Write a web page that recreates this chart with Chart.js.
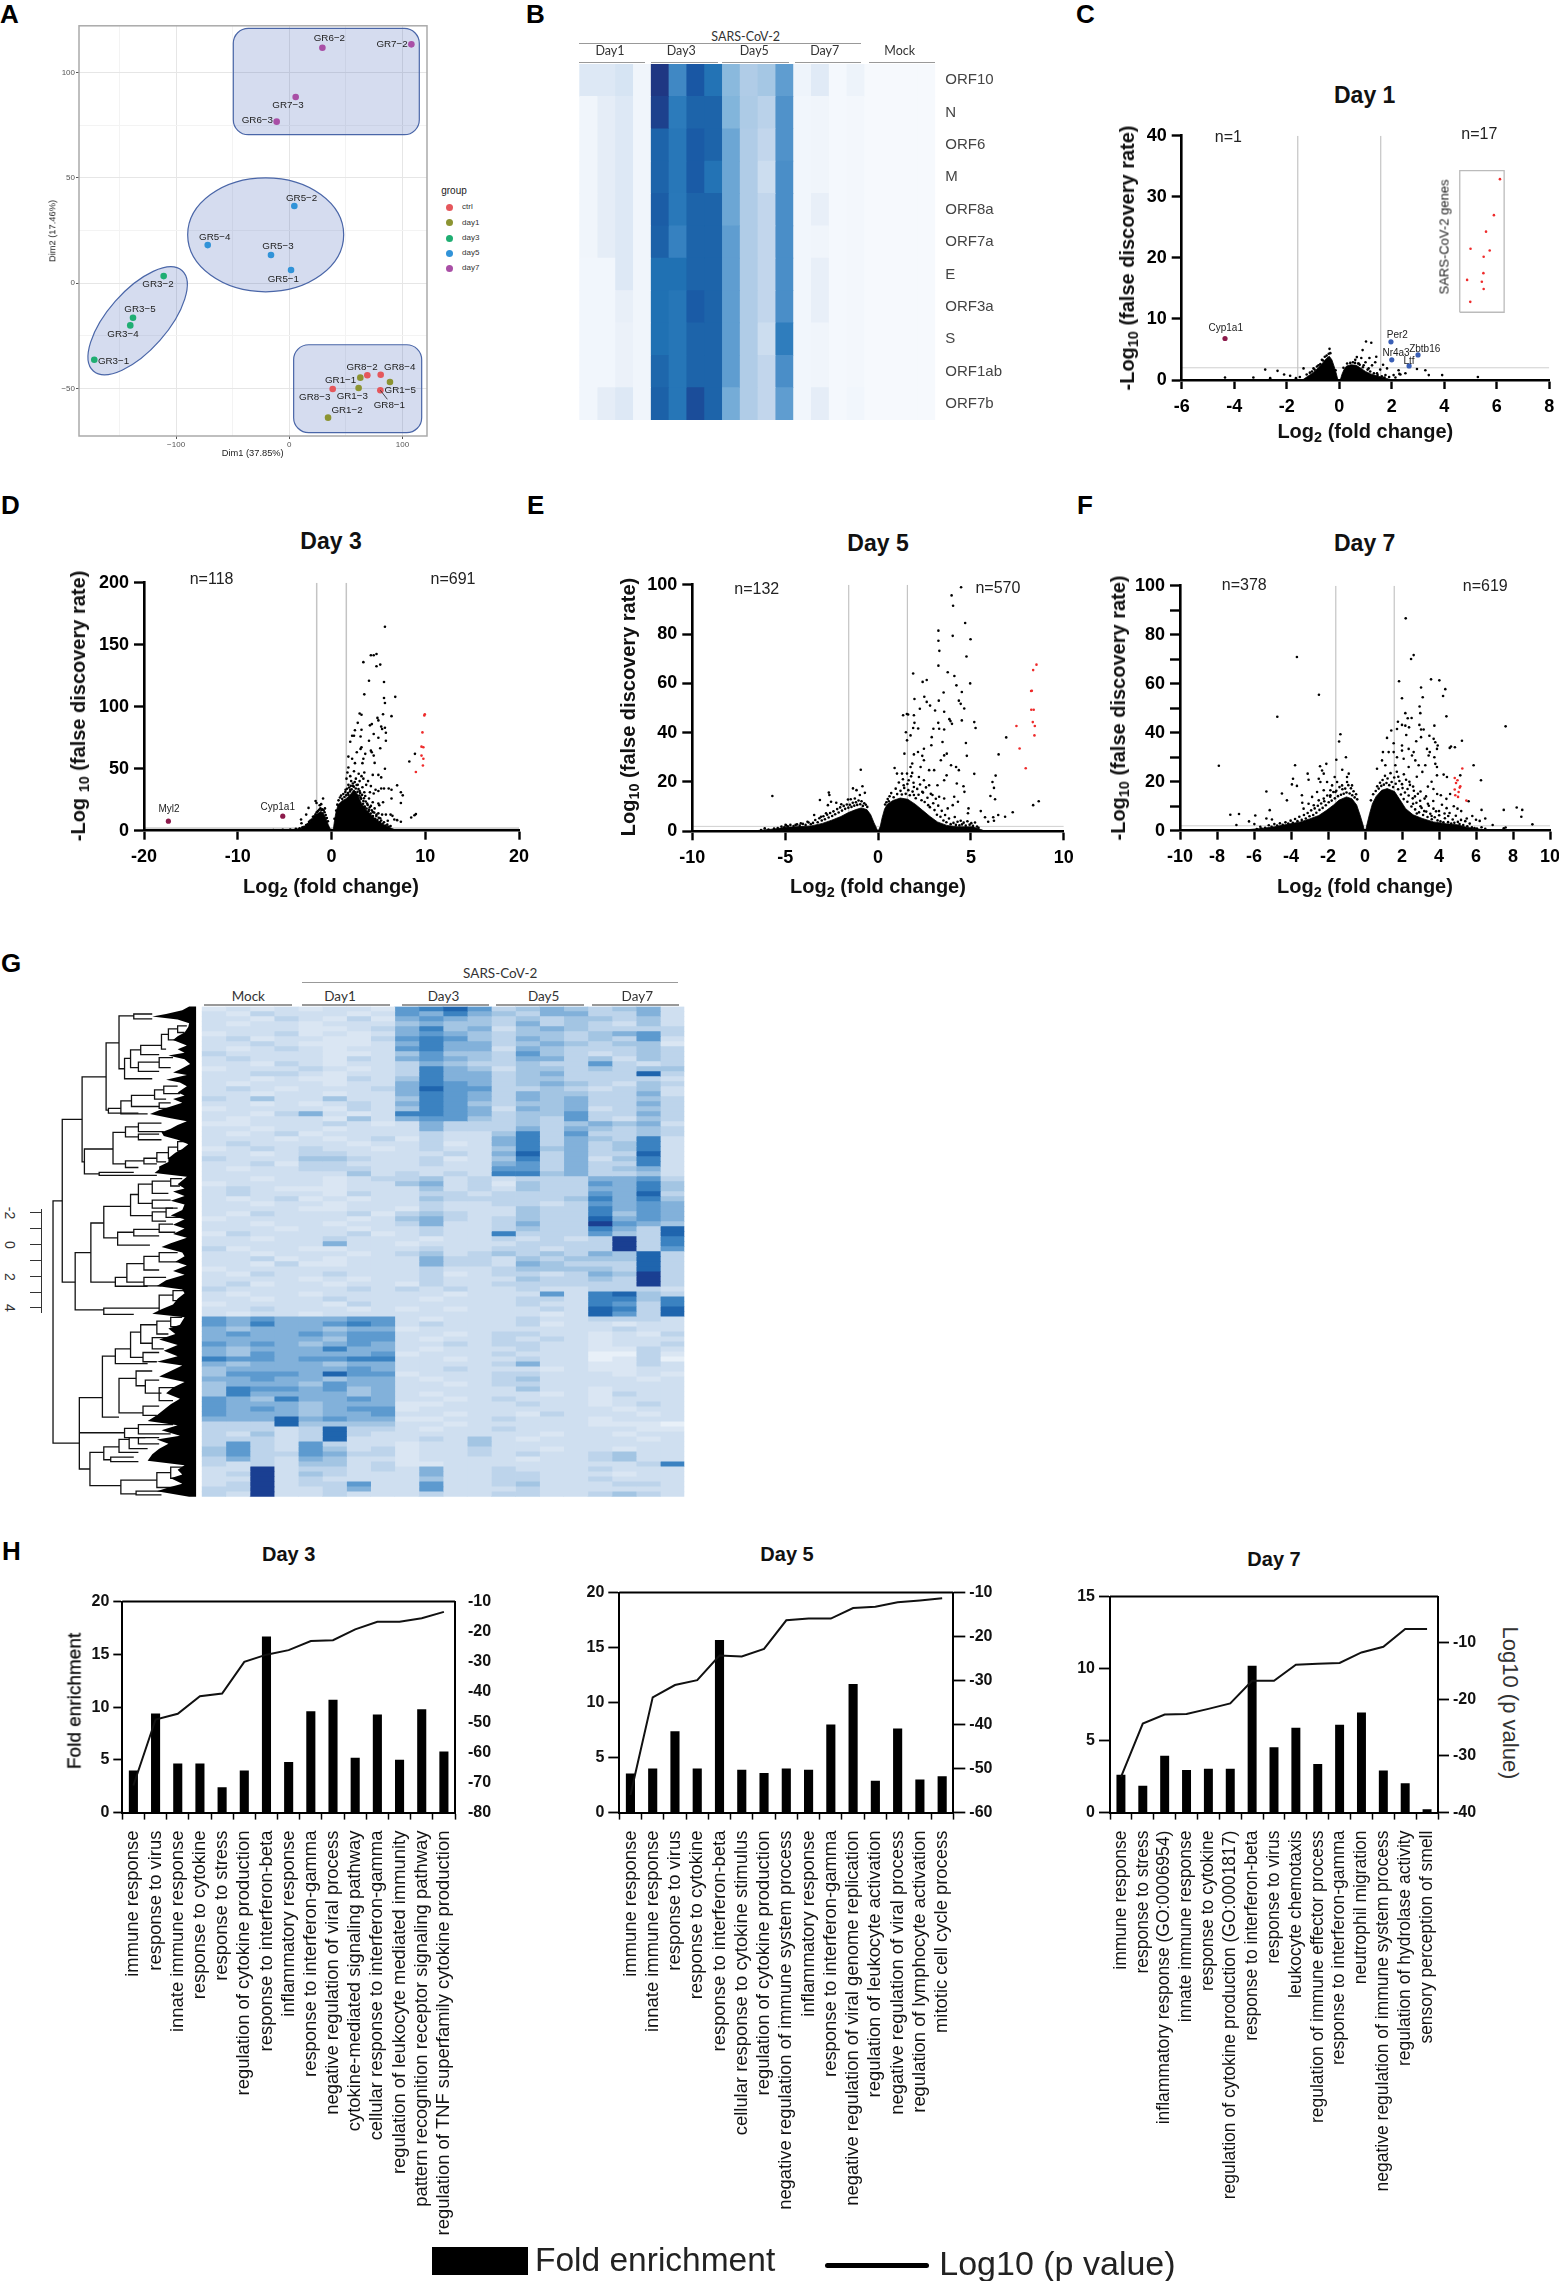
<!DOCTYPE html>
<html><head><meta charset="utf-8">
<script src="https://cdn.jsdelivr.net/npm/chart.js@4/dist/chart.umd.min.js"></script>
<style>
html,body{margin:0;padding:0;background:#fff}
#page{position:relative;width:1559px;height:2281px;overflow:hidden;background:#fff;font-family:"Liberation Sans",Arial,sans-serif;color:#000;filter:blur(.35px)}
#page canvas{position:absolute}
.t{position:absolute;white-space:nowrap;line-height:1;transform-origin:center}
.t sub{font-size:.72em;vertical-align:-.28em;line-height:0}
.l{position:absolute}
</style></head><body><div id="page"></div>
<script>
/* ---------- Panel A: PCA ---------- */
const pcaGroups=['ctrl','day1','day3','day5','day7'];
const pcaNames={ctrl:['GR8-2','GR8-4','GR8-3','GR8-1'],day1:['GR1-1','GR1-3','GR1-5','GR1-2'],day3:['GR3-2','GR3-5','GR3-4','GR3-1'],day5:['GR5-2','GR5-4','GR5-3','GR5-1'],day7:['GR6-2','GR7-2','GR7-3','GR6-3']};
const pcaDim1={ctrl:[68.9,80.7,38.3,80.4],day1:[62.7,61.2,88.9,34.2],day3:[-111,-138.1,-140.5,-172.3],day5:[4.4,-72.1,-16.2,1.5],day7:[29.2,107.8,5.6,-11.2]};
const pcaDim2={ctrl:[-43.8,-43.5,-50.3,-50.9],day1:[-44.9,-49.8,-47,-63.9],day3:[3.3,-16.5,-20.1,-36.4],day5:[36.6,18,13.3,6.2],day7:[111.7,113.3,88.3,76.6]};
/* ---------- Panel B ---------- */
const orfGenes=['ORF10','N','ORF6','M','ORF8a','ORF7a','E','ORF3a','S','ORF1ab','ORF7b'];
const orfHeat=[
[20,20,22,6,100,65,90,78,45,35,38,55,7,18,3,8,2,2,2,2],
[6,14,20,6,97,72,84,84,47,36,31,60,5,6,3,4,2,2,2,2],
[6,14,20,6,84,75,88,84,52,35,28,60,5,6,3,4,2,2,2,2],
[6,14,20,6,84,75,88,78,52,35,25,62,5,6,3,4,2,2,2,2],
[6,14,20,6,87,74,84,84,52,35,28,62,5,12,3,4,2,2,2,2],
[6,14,20,6,85,68,84,84,55,35,28,62,5,6,3,4,2,2,2,2],
[5,5,20,6,80,80,84,84,55,35,28,62,5,12,3,4,2,2,2,2],
[5,5,12,6,80,76,88,84,55,35,28,62,5,12,3,4,2,2,2,2],
[5,5,10,6,80,76,84,84,55,35,25,70,5,6,3,4,2,2,2,2],
[5,5,10,6,83,76,84,84,55,35,28,62,5,6,3,4,2,2,2,2],
[5,14,20,6,85,76,93,84,50,35,28,55,5,14,3,5,2,2,2,2]];
/* ---------- Volcano panels: [log2FC, -log10FDR] ---------- */
const d1Cloud=[[-1.4,0],[-1.2,.6],[-1,1.2],[-.8,2],[-.65,2.7],[-.5,3.5],[-.38,3.9],[-.28,3.3],[-.2,2.3],[-.12,1.2],[-.05,0],[.04,0],[.1,.9],[.18,1.7],[.28,2.3],[.45,2.5],[.65,2.4],[.8,2],[1,1.4],[1.2,1],[1.5,.6],[1.8,.25],[2,0]];
const d1Black=[[-.37,5.1],[1.02,6.3],[1.22,6.1],[.89,4.9],[.67,3.75],[.84,3.6],[1.15,3.6],[1.41,3.8],[1,2.9],[1.37,2.9],[1.67,2.5],[-2.82,1.7],[-2.35,1.5],[-2.1,.9],[-1.87,.7],[-1.36,1.9],[-3.27,.4],[-4.35,.4],[-2.63,.3],[2.96,1.8],[3.28,1.6],[3.41,.8],[3.92,.8],[5.28,.5],[2.26,1.6],[2.52,1.1],[2.07,.8],[2.29,1],[2.33,.9],[-.98,1.9],[-.79,2.4],[-.66,3.3],[-1.04,1.4],[1.82,1.9],[1.56,1.7],[1.44,1.1],[1.76,.8],[.61,3.3],[.74,2.7],[.93,2.4],[1.12,1.9],[1.25,2.4],
[-.48,4],[-.4,4.3],[-.34,4.4],[-.55,3.8],[-.62,3.2],[-.72,2.6],[-.85,2.2],[-.94,1.7],[-1.12,1.2],[-1.24,.9],[.3,2.7],[.42,2.8],[.52,2.9],[.6,2.8],[.72,2.7],[.78,2.5],[.9,2.1],[1.08,1.7],[1.18,1.4],[1.32,1.1],[1.46,.8],[1.62,.6],[1.72,.4],[1.9,.5],[2.14,.4],[-1.5,.5],[-1.65,.3],[-.14,1.6],[.16,2]];
const d1Red=[[6.12,32.9],[5.89,27],[5.59,24.3],[5,21.5],[5.73,21.2],[5.5,20.2],[5.49,17.5],[4.87,16.4],[5.43,16.1],[5.5,14.9],[4.99,12.8]];
const d1Down=[[-4.35,6.8]],d1DownNames=['Cyp1a1'];
const d1Up=[[1.97,6.25],[2,3.3],[3,4.1],[2.66,2.3]],d1UpNames=['Per2','Nr4a3','Zbtb16','Ltf'];
const d1Box=[[4.59,11.1],[4.59,34.3],[6.28,34.3],[6.28,11.1],[4.59,11.1]];

const d3Cloud=[[-7,0],[-6,.5],[-4,1],[-3.2,2],[-2.8,3.5],[-2.4,6.5],[-2,10],[-1.6,13],[-1.2,15.5],[-.9,14.5],[-.6,10],[-.35,5],[-.15,1.5],[-.07,0],[.18,0],[.28,6],[.45,14],[.7,21],[1.1,24],[1.6,26],[2.1,30],[2.4,33],[2.8,29],[3.2,22],[3.7,17],[4.3,12],[4.9,8],[5.5,5],[6.2,2.5],[7,0]];
const d3Black=[[5.7,164.5],[4.2,141.5],[4.5,141.5],[4.8,142.6],[3.4,136],[5.2,134],[4.8,132.7],[4,121],[5.6,120],[3.5,110],[6.8,108],[5.6,107],[5.7,103],[3,94.5],[3.2,93.5],[5.5,94],[6.4,92.4],[2.8,87],[4.1,85],[4.3,86],[4.9,91],[5,89],[2.5,81],[3.2,81.5],[5.4,82],[5.3,84],[5.7,83],[5.8,79],[2.2,76.6],[2.4,76.6],[3.1,76],[4.5,78],[4,72.6],[2,71.8],[5,75],[5.8,72.6],[3.2,67.3],[3.1,66],[5.2,66.5],[2.7,63.3],[4.2,64.6],[4.3,63.3],[3.6,62],[4.5,60.6],[1.8,59.8],[3.4,58],[2.2,58],[2.5,54.5],[3.3,54.5],[4.6,54.7],[1.8,51],[5.7,50],[8.9,62],[8.3,55.8],[8.5,10.7],[8.85,12.5],[9,13.4],[7.4,31],[7.6,28.5],[7.4,22.4],[6.4,26],[7,36.6],[6.1,34],[7,8.5],[7.4,7.2],[6.3,13],[5.4,13],[5,14],[-1.7,24],[-.9,26],[-1.26,20.5],[-.7,18],[-2.45,18.4],[-2.7,13],[-1.6,22.4],[-1.1,21.4],[-3.25,9],[-3.2,6],[1.7,47],[2,44],[2.4,48],[2.9,46],[3.2,44],[3.5,47],[1.6,42],[2.1,40],[2.6,42],[3,40],[3.4,42],[3.9,40],[4.4,45],[5,45],[5.3,43],[1.8,37],[2.3,36],[2.8,37],[3.3,35],[3.7,37],[4.2,36],[4.7,33],[5.3,34],[1.5,33],[2,33],[2.5,31],[3,32],[3.5,31],[4.1,31],[4.5,30],[5,32],[5.6,34],[6.4,33],[1.8,29],[2.2,29],[2.7,28],[3.1,27],[3.6,28],[4,26],[4.4,23],[5,22],[5.1,20.5],[5.5,23],[3.4,24],[3.8,22],[4.2,20],[4.6,18],[3,22],[3.5,19],[4,17],[4.4,15],[4.8,13],[5.8,13],[6.5,12],[5.2,10],[6,8],[6.7,9],
[.75,24.5],[.9,26.8],[1.02,28.3],[1.14,25.7],[1.26,29.6],[1.38,27.2],[1.47,31.2],[1.58,28.7],[1.66,33.8],[1.76,30.4],[1.88,34.9],[1.97,31.6],[2.06,36.2],[2.15,33.3],[2.28,38.1],[2.39,35.4],[2.48,39.2],[2.59,34.1],[2.68,36.9],[2.77,31.3],[2.88,33.6],[2.97,28.4],[3.06,30.5],[3.16,25.7],[3.26,28.9],[3.37,21.8],[3.46,26.2],[3.55,19.4],[3.65,23.6],[3.74,17.9],[3.86,20.7],[3.95,15.6],[4.08,18.9],[4.18,13.8],[4.3,16.4],[4.42,11.9],[4.55,14.6],[4.67,9.7],[4.78,11.8],[4.9,8.6],[5.04,10.4],[5.17,6.9],[5.3,8.2],[5.46,5.6],[5.6,6.8],[5.75,4.2],[5.95,4.9],[6.1,3.1],[6.3,3.7],[.32,9.6],[.5,16.2],[.62,21],
[-.38,7.6],[-.5,10.2],[-.62,12.6],[-.74,14.9],[-.85,16.4],[-.98,17.2],[-1.08,16.6],[-1.18,18.1],[-1.32,16.9],[-1.45,15.8],[-1.58,14.9],[-1.7,13.2],[-1.84,11.6],[-1.98,11.3],[-2.1,8.9],[-2.25,8.2],[-2.4,7.1],[-2.55,5.2],[-2.7,4.6],[-2.9,3.2],[-3.1,2.8],[-3.4,1.9],[-3.8,1.6],[-4.4,.9],[-5.2,.7],[-6.2,.5]];
const d3Red=[[9.9,93],[9.95,94],[9.7,79.3],[9.6,67.8],[9.8,67.3],[9.6,60.6],[9.8,58],[9.75,52.6],[9,47.3]];
const d3Down=[[-17.4,7.7],[-5.2,11.7]],d3DownNames=['Myl2','Cyp1a1'];

const d5Cloud=[[-6.5,.3],[-5.5,1],[-5,1.6],[-4.2,1.9],[-3.6,2.2],[-3,3.2],[-2.5,4.5],[-2,6],[-1.6,7.6],[-1.2,8.8],[-.9,9.5],[-.6,8.8],[-.4,6.8],[-.22,3.5],[-.08,1.2],[0,0],[.05,0],[.12,2],[.22,5.5],[.35,9],[.5,11],[.8,12.5],[1.2,13.5],[1.6,13],[2,11],[2.4,8.5],[2.8,6],[3.2,3.8],[3.7,2.4],[4.3,1.8],[5.1,1.8],[5.5,.8],[5.8,0]];
const d5Black=[[4.47,99],[3.96,95.7],[4.04,91.5],[4.69,84.5],[3.25,81.4],[3.25,77.3],[4.02,79.3],[4.98,77.9],[3.3,73.2],[4.76,70.9],[3.25,67.2],[3.75,64.5],[4.11,63],[1.89,64],[2.62,61.4],[2.4,60.6],[4.96,60],[4.22,59.2],[3.53,56.3],[4.51,56.5],[2.49,54.6],[1.96,53.7],[2.62,52.5],[3.27,53],[4.35,53],[4.45,51.7],[2.8,51],[2.25,49.7],[3.07,49],[3.56,48.5],[4.64,49.8],[1.55,47.6],[1.62,47.4],[1.35,47.1],[1.93,47.1],[3.84,45.5],[3.9,44.7],[3.98,43.6],[4.51,45],[5.18,44.3],[3.24,44],[1.96,44],[1.89,41.9],[2.16,41.7],[2.98,41.6],[3.29,41.6],[3.56,41.3],[5.25,41.9],[1.5,40.2],[1.75,38.9],[1.56,36.9],[2.89,38.2],[6.9,38.1],[3.47,36.2],[4.73,35.8],[2.87,34.9],[2.47,33.5],[3.7,31.5],[3.56,30.8],[3.38,28.8],[2.15,32.2],[1.93,31.2],[1.42,31.5],[4.78,30.6],[6.49,31.2],[2.38,30.6],[2.47,28.8],[1.84,27.5],[1.75,26.1],[2.29,26.1],[3.93,26.8],[4.2,26.1],[.89,25.7],[1.02,23.4],[1.29,23.4],[1.56,23.4],[1.84,23.7],[2.75,24.8],[3.02,24.8],[4.35,24.8],[5.18,23.3],[6.33,22.6],[3.69,22.7],[3.56,20.7],[3.2,18.7],[2.2,22],[2.47,20.7],[2.75,18.7],[1.65,20.7],[1.38,18.7],[1.93,18],[4.24,19.4],[6.16,20],[6.24,17.6],[4.6,18.3],[4.65,16],[6.05,14.3],[6.3,13],[8.65,12.2],[8.35,10.6],[3.29,14],[2.93,14.7],[4.1,14],[3.56,13.3],[1.93,14.7],[2.38,16],[2.7,10.6],[3.75,9.3],[4.02,10.6],[4.3,12],[4.87,9.3],[4.84,7.3],[5.53,8.2],[5.76,5.7],[6.2,5.7],[6.47,6.6],[6.84,5.9],[7.25,7.7],[5.93,3.9],[6.24,4.3],[-5.69,14.3],[-2.65,15.7],[-2.62,14.7],[-3.13,12.7],[-2.53,12],[-2.7,10.6],[-2.25,11.6],[-1.98,11],[-1.62,12.9],[-1.47,13],[-1.35,17.4],[-.84,18.3],[-1.16,16.7],[-.93,25],[-.71,15.6],[-.98,14.7],[-1.25,13.3],[-2.8,7.3],[-3.07,5.9],[-3.44,6.6],[-3.8,3.9],[-4.16,3.2],[-4.44,2.6],[-4.98,2.6],[-6.1,1.2],
[.62,14.2],[.71,15.5],[.84,13.8],[.95,17.3],[1.03,15.1],[1.12,19.8],[1.21,16.4],[1.28,14.9],[1.34,21.1],[1.41,17.6],[1.49,15.2],[1.58,19.2],[1.63,16.7],[1.71,14.6],[1.78,22.3],[1.86,16.1],[1.91,19.7],[2.03,13.4],[2.11,17.2],[2.18,14.8],[2.26,19],[2.34,12.6],[2.42,15.7],[2.51,11.9],[2.58,17.8],[2.66,13.6],[2.79,9.8],[2.84,15.2],[2.97,11.4],[3.04,8.6],[3.11,13.2],[3.17,6.7],[3.24,10.4],[3.36,5.9],[3.43,8.3],[3.52,4.4],[3.61,6.6],[3.68,3.7],[3.82,5.2],[3.91,2.9],[4.06,3.4],[4.13,5.8],[4.19,2.6],[4.28,3.9],[4.38,2.4],[4.45,4.3],[4.52,2.8],[4.61,3.5],[4.72,2.3],[4.81,4.1],[4.93,2.7],[5.02,3.3],[5.11,2.2],[5.22,3.6],[5.33,1.9],[5.41,1.4],[.45,11.8],[.52,13.1],[.38,10.9],[.58,12.2],
[-.58,9.9],[-.66,10.8],[-.74,11.4],[-.82,10.3],[-.89,12.2],[-.96,11],[-1.05,12.5],[-1.12,10.7],[-1.19,11.8],[-1.28,10.4],[-1.36,11.6],[-1.43,9.9],[-1.52,10.8],[-1.6,9.6],[-1.68,10.9],[-1.77,9.1],[-1.85,10.3],[-1.94,8.4],[-2.04,9.7],[-2.12,7.6],[-2.2,9],[-2.31,6.9],[-2.4,8.1],[-2.47,6.2],[-2.58,7.4],[-2.66,5.6],[-2.74,6.7],[-2.86,4.9],[-2.94,6.1],[-3.03,4.4],[-3.16,5.3],[-3.25,3.7],[-3.38,4.6],[-3.5,3.4],[-3.62,2.9],[-3.74,3.6],[-3.9,2.6],[-4.05,3],[-4.22,2.3],[-4.36,2.8],[-4.55,2.1],[-4.72,2.6],[-4.86,2],[-4.95,2.4],[-5.05,1.6],[-5.2,1.9],[-5.4,1.3],[-5.6,1.1],[-5.9,.7],[-6.3,.5]];
const d5Red=[[8.53,67.6],[8.35,65.4],[8.24,56.9],[8.28,57],[8.25,49.3],[8.38,49.3],[8.33,44.3],[8.44,42.7],[7.45,42.7],[8.42,38.9],[7.62,33.6],[7.95,25.6]];

const d7Cloud=[[-6.5,.3],[-5.5,1],[-4.9,1.6],[-4.2,2.6],[-3.5,3.6],[-3,4.8],[-2.5,6.2],[-2.1,8.2],[-1.7,10.5],[-1.4,12.5],[-1,13.8],[-.7,13],[-.45,10.5],[-.25,6],[-.1,2.2],[-.03,0],[.03,0],[.12,3],[.25,7],[.4,11],[.6,14],[.9,16.5],[1.2,17.2],[1.6,16],[1.9,12.5],[2.2,9],[2.6,6.5],[3.1,5],[3.7,3.6],[4.4,2.8],[5,2.4],[5.5,1.4],[6.2,.6],[7,0]];
const d7Black=[[2.2,86.7],[-3.68,70.9],[2.63,71.7],[2.49,70.1],[-2.49,55.5],[-4.74,46.5],[-7.9,26.5],[1.84,61],[3.57,61.8],[4.02,61.4],[3.03,58.5],[4.34,57.8],[4.22,55],[3.12,54.5],[2,54.1],[2.95,50.7],[2.99,48],[2.18,48],[2.31,45.9],[2.52,46],[4.4,46.7],[1.78,44.5],[2,43.2],[2.18,42.9],[2.38,42.2],[2.94,43.2],[3.75,42.9],[7.6,42.6],[1.42,40.9],[1.73,41.5],[3.03,41.3],[3.17,41.3],[2.23,39.1],[-1.33,39.4],[-1.4,36.4],[5.24,36.7],[1.19,37.9],[3.48,38.8],[3.71,37.5],[3.03,38.2],[2.77,36.5],[3.8,36.1],[3.93,34.8],[3.89,33.4],[1.55,35.7],[4.65,34.4],[4.58,33.8],[4.86,34.1],[2,34.8],[2,32.7],[2.36,33.4],[3.35,33.4],[3.5,32.1],[3.44,30.7],[.97,32.1],[1.28,32.1],[1.55,32.1],[2.63,32.1],[2.54,30.7],[-1.03,30],[-1.55,29],[3.75,30],[3.8,27.3],[3.89,26],[.92,28.7],[1.73,30],[2.09,29.4],[2.72,28.7],[-2.09,27.3],[-3.78,26.7],[-2.43,26.3],[5.87,26.7],[.65,25.3],[1.1,26.7],[1.64,26.7],[2.36,26],[2.9,26.7],[3.26,26.7],[-1.23,24.9],[-3.1,23.3],[-3.05,20.8],[-3.89,21.2],[-3.95,18.9],[-3.68,18.3],[-2.32,24.6],[-2.23,23.3],[-2.5,21.2],[-2.41,19.9],[-.88,23.3],[-.97,21.9],[-1.64,21.9],[3.89,22.6],[4.25,22.9],[4.43,21.9],[5.15,22.6],[6.27,20.6],[-5.33,16],[-4.49,15.2],[-4.22,12.4],[-3.41,14.5],[-3.39,11.4],[-5.15,8.4],[-7.28,6.5],[-6.81,6.8],[-5.93,6.2],[-6.27,3.8],[-6.95,2.3],[-5.98,2.7],[-5.66,1.6],[-5.33,5],[-5.03,4.6],[-2.05,19.9],[-1.78,18.5],[-1.51,19.9],[-1.24,18.5],[-.97,19.9],[-.7,18.5],[-1.87,16.5],[-1.6,15.8],[-2.23,16.5],[-2.59,15.8],[-2.86,13.8],[-2.5,12.4],[-3.05,11],[-3.32,9],[-2.77,10.4],[-2.23,13.1],[-1.87,14.5],[1.8,22],[2.1,23],[2.4,20],[2.8,22],[3.1,24],[3.4,18],[3.6,20],[3.7,17],[2,19],[2.3,17],[2.6,18],[3,16],[3.3,14],[2.7,14],[3.9,15],[4.1,14.5],[4.4,13],[4.6,15],[4.8,10],[5,9],[3.4,11],[3.7,9],[4,8],[4.3,7],[3,10],[2.6,11],[3.2,8],[3.6,6],[2.8,7],[4.5,6],[5.2,8],[5.6,12],[5.5,5],[5.8,6],[6.3,8.5],[6.5,5],[6.2,4],[7.5,8.5],[8.2,9.5],[8.5,8.5],[8.45,5.7],[9.05,2.6],[6.9,2.3],[7.5,1],[7.6,1.3],[6,4.5],
[.58,16.2],[.66,18.1],[.74,17.2],[.81,19.6],[.88,18.3],[.95,20.7],[1.02,18.8],[1.08,22.4],[1.16,19.5],[1.22,21.3],[1.31,18.6],[1.38,23.5],[1.44,19.9],[1.52,17.8],[1.58,21.7],[1.66,19.2],[1.72,24.1],[1.79,16.9],[1.86,20.3],[1.94,14.8],[2.03,17.4],[2.09,12.9],[2.16,15.6],[2.22,20.8],[2.29,11.8],[2.36,14.4],[2.43,18.7],[2.51,9.9],[2.58,13.2],[2.64,16.3],[2.71,8.7],[2.78,11.4],[2.86,15.1],[2.92,7.5],[2.98,12.2],[3.06,9.3],[3.14,6.4],[3.22,13.1],[3.31,7.8],[3.38,5.6],[3.45,10.2],[3.53,6.9],[3.61,4.7],[3.69,12.1],[3.77,5.5],[3.84,7.9],[3.92,4.2],[4.01,6.3],[4.08,3.8],[4.16,10.6],[4.24,3.4],[4.32,5.1],[4.41,9.2],[4.49,3.5],[4.57,7.2],[4.66,2.9],[4.74,4.6],[4.83,3.2],[4.91,6.1],[5.02,3.6],[5.11,2.7],[5.19,4.4],[5.31,2.3],[5.42,3.9],[5.53,1.8],[5.66,2.9],[5.78,1.4],[5.92,1.1],[6.05,.9],[6.3,1.4],[6.5,.8],[.32,12.4],[.44,14.9],
[-.42,12.8],[-.48,14.9],[-.56,13.6],[-.62,16.1],[-.69,14.5],[-.76,17.3],[-.83,15.2],[-.9,18.6],[-1,15.6],[-1.07,17.2],[-1.15,15.1],[-1.22,16.9],[-1.3,14.7],[-1.38,17.8],[-1.46,14.1],[-1.55,16.3],[-1.63,13.2],[-1.71,15.8],[-1.8,12.3],[-1.88,13.9],[-1.96,11.6],[-2.04,14.4],[-2.12,10.4],[-2.2,12],[-2.29,9.3],[-2.37,11.1],[-2.46,8.5],[-2.55,10.2],[-2.63,7.3],[-2.72,9.1],[-2.8,6.4],[-2.91,8.3],[-3,5.9],[-3.1,7.2],[-3.2,5],[-3.3,6.4],[-3.42,4.4],[-3.55,5.7],[-3.65,3.9],[-3.78,4.8],[-3.9,3.2],[-4.02,4.1],[-4.15,2.9],[-4.3,3.4],[-4.45,2.4],[-4.6,3],[-4.75,2.1],[-4.9,2.7],[-5.05,1.6],[-5.2,2.2],[-5.4,1.2],[-5.6,.9],[-5.85,.7]];
const d7Red=[[5.26,25.4],[4.85,21.5],[5,20.6],[4.92,19.5],[5.15,18.1],[5.12,17.6],[4.85,16.8],[5.06,15.8],[4.88,14.5],[5.03,13.8],[5.48,12.3]];
/* ---------- Panel G: rows of the gene heat map, one digit (0-9) per sample ---------- */
const geneSamples=['Mock1','Mock2','Mock3','Mock4','D1-1','D1-2','D1-3','D1-4','D3-1','D3-2','D3-3','D3-4','D5-1','D5-2','D5-3','D5-4','D7-1','D7-2','D7-3','D7-4'];
const geneRows=[
'1212 1221 6786 3454 3452','2132 2212 6575 4355 3352','2213 2131 5654 3434 4342','2122 1222 4544 3534 3242','2222 1123 5745 2454 3333',
'1223 1212 5654 3443 4563','2312 2113 6764 3543 4362','2232 1112 5755 3454 3441','2123 2122 6755 2543 3343','3222 2112 4644 3643 2343',
'2322 2132 5654 3553 4243','2213 2122 3543 3433 6323','1222 3212 3754 2443 4344','2233 2122 3755 3453 3383','2212 1132 4755 3443 3332',
'2122 2122 5765 3454 3243','2321 2223 5866 3343 2342','2212 2122 5765 3544 3352','3242 2422 4765 3545 3343','2212 1232 5764 3445 3353',
'1222 2132 4765 2545 2343','2213 5212 7765 3446 3353','2122 2142 5664 3436 3243','1122 2321 2533 3434 5452','2212 2122 2533 3535 4343',
'2123 1222 2322 4736 3343','2221 2123 1322 5735 4372','2322 2212 2312 5735 3472','1232 3221 2322 4745 3472','2212 3322 2232 5835 3382',
'3222 4432 2312 4735 2472','2231 3322 2322 5635 3372','2122 3332 2222 6635 3452','2222 2242 3232 7745 3342','2212 2123 3423 2333 5563',
'1222 2122 4523 1433 6574','2321 1122 2423 2433 5574','2322 2132 2332 3333 6583','2123 1212 2433 3334 7574','2212 2122 2322 3323 6565',
'2222 1122 1322 2433 7565','2132 2231 3432 2433 7465','1222 2212 4532 3433 8565','2212 2122 3522 3533 9654','2221 2212 2322 3433 7538',
'1322 2231 2322 7333 6438','2212 2322 2122 3232 3937','2222 2522 1222 2333 3937','3122 1122 2322 3323 3936','2212 2212 3423 4343 5483',
'2231 2122 2533 2434 4483','2213 1122 2533 2543 3383','1222 2222 2322 3444 4383','2132 2322 2312 3323 5493','2222 1212 2322 2433 4393',
'2312 2122 1322 3333 3393','3222 2232 3232 2322 3332','2122 1222 2212 2262 7843','2212 2322 2122 2332 7747','1222 2132 2222 2322 7637',
'2232 2212 1212 2232 8738','2122 1222 2222 2212 8638','6565 5566 2122 2322 3332','6575 5676 2322 2312 2122','5455 5455 1222 2222 2322',
'5655 6566 2212 3322 1213','5555 5466 2122 3232 1222','6565 4565 2232 3322 1223','5455 5755 2122 2322 1132','5465 5556 1222 3222 0031',
'7665 6677 2212 2322 0130','5455 5455 2222 3522 1132','4555 5565 2232 2212 1122','4666 5866 1222 3322 2121','5565 5455 2122 3422 2212',
'4555 4655 2212 3322 2222','4766 5645 2222 2422 1222','4755 5545 2122 2212 1322','6547 5565 2212 3222 1222','6555 4555 1122 2322 1232',
'6565 4566 1222 2222 2122','6555 4556 2212 2132 2212','5558 5655 1122 3222 1222','3338 4444 2212 2222 1110','3332 3833 2122 3222 2211',
'3242 3832 2222 2212 2122','3332 3822 2324 2122 2212','3632 6322 1224 2222 2222','4632 6423 1223 2212 2122','4633 6533 1223 2322 3422',
'3532 5422 1222 2122 3422','3232 4423 1122 2222 2237','2292 3323 2522 3222 3222','2392 4322 2522 3322 2122','2292 3222 2422 3322 3222',
'2392 3362 2622 3422 2332','3392 2352 2622 2322 2222','3292 2322 2322 3322 3432'];
/* dendrogram clades: [height, yTop, childHeightTop, yBottom, childHeightBottom] in tree units */
const treeClades=[[115,705,135,1360,172],[135,485,178,925,163],[178,370,230,600,183],[230,278,258,460,235],[258,205,290,348,270],[290,200,330,213,330],[270,320,283,375,330],[283,297,305,345,300],[305,285,350,310,345],[350,255,365,295,360],[365,240,385,270,385],[385,232,405,250,400],[300,330,345,355,345],[345,318,375,345,370],[235,455,262,468,300],[262,435,285,470,320],[285,420,335,450,345],[335,405,355,430,360],[355,395,385,415,390],[345,440,370,455,375],[183,565,245,632,215],[245,520,272,605,272],[272,505,300,532,300],[300,495,350,518,355],[300,525,345,540,350],[272,597,312,615,300],[312,590,340,605,340],[340,575,365,600,360],[365,560,385,590,395],[385,545,405,570,410],[215,628,290,636,340],[163,845,197,1000,225],[197,765,225,925,250],[225,720,283,805,255],[283,688,300,745,330],[300,660,330,712,330],[330,652,370,685,365],[370,645,395,665,390],[330,703,370,725,375],[330,735,360,760,360],[360,725,385,750,390],[255,790,290,825,325],[290,782,345,800,345],[345,768,375,790,380],[250,912,275,936,320],[275,875,312,925,312],[312,855,345,892,345],[345,845,385,870,385],[312,912,360,935,350],[225,995,345,1012,290],[345,960,375,1008,360],[375,948,400,975,395],[172,1237,222,1430,195],[172,1332,270,1332,270],[222,1125,250,1290,258],[250,1105,283,1145,320],[283,1060,305,1128,310],[305,1040,340,1090,330],[340,1030,370,1065,365],[370,1020,395,1045,390],[330,1075,365,1105,355],[310,1115,345,1140,340],[258,1185,295,1278,310],[295,1165,330,1205,315],[315,1190,345,1225,350],[345,1210,385,1245,375],[310,1260,345,1285,340],[195,1385,225,1475,262],[225,1370,258,1405,240],[258,1350,280,1385,300],[270,1320,300,1345,300],[262,1460,340,1497,295],[340,1440,370,1480,380],[370,1425,400,1455,390],[295,1490,350,1500,350],[300,1310,375,1335,370],[300,1345,345,1362,345],[280,1345,315,1375,320],[240,1398,290,1410,300]];
/* leaf fan edge: [leaf position, height where the black fan starts] */
const treeFan=[[180,410],[190,395],[200,360],[207,330],[215,385],[225,410],[235,408],[250,400],[260,385],[270,375],[285,405],[295,385],[305,400],[312,365],[322,400],[335,412],[350,390],[358,375],[365,405],[378,360],[385,390],[395,405],[412,385],[420,400],[430,375],[440,395],[450,370],[460,345],[470,325],[482,370],[490,405],[500,385],[510,370],[520,350],[530,355],[540,385],[552,408],[565,395],[575,380],[590,365],[600,365],[612,345],[620,345],[630,335],[640,405],[650,395],[660,385],[672,400],[680,375],[692,400],[705,370],[715,400],[730,395],[745,370],[755,400],[770,375],[780,400],[795,375],[805,405],[820,370],[830,350],[845,395],[855,400],[870,380],[880,405],[895,375],[905,400],[920,360],[935,340],[945,395],[955,400],[970,385],[985,375],[998,350],[1010,330],[1020,400],[1040,390],[1050,365],[1065,380],[1080,345],[1095,385],[1110,355],[1125,385],[1140,340],[1150,395],[1165,370],[1180,345],[1195,400],[1210,375],[1225,360],[1240,390],[1255,370],[1270,355],[1285,340],[1300,320],[1312,385],[1325,350],[1340,390],[1350,340],[1362,365],[1375,345],[1390,330],[1408,320],[1420,400],[1432,385],[1445,395],[1455,370],[1470,395],[1480,365],[1490,340],[1505,410]];
/* ---------- Panel H ---------- */
const day3Terms=['immune response','response to virus','innate immune response','response to cytokine','response to stress','regulation of cytokine production','response to interferon-beta','inflammatory response','response to interferon-gamma','negative regulation of viral process','cytokine-mediated signaling pathway','cellular response to interferon-gamma','regulation of leukocyte mediated immunity','pattern recognition receptor signaling pathway','regulation of TNF superfamily cytokine production'];
const day3Fold=[4,9.4,4.65,4.65,2.4,4,16.7,4.8,9.6,10.7,5.2,9.3,5,9.8,5.8];
const day3LogP=[-71,-49.1,-47.2,-41.4,-40.5,-30,-27.6,-26.1,-23.1,-22.8,-19.2,-16.7,-16.7,-15.5,-13.4];
const day5Terms=['immune response','innate immune response','response to virus','response to cytokine','response to interferon-beta','cellular response to cytokine stimulus','regulation of cytokine production','negative regulation of immune system process','inflammatory response','response to interferon-gamma','negative regulation of viral genome replication','regulation of leukocyte activation','negative regulation of viral process','regulation of lymphocyte activation','mitotic cell cycle process'];
const day5Fold=[3.55,4,7.4,4,15.7,3.9,3.6,4,3.9,8,11.7,2.9,7.65,3,3.3];
const day5LogP=[-56,-33.8,-31,-29.9,-24.3,-24.5,-22.8,-16.3,-15.9,-15.9,-13.5,-13.2,-12.2,-11.8,-11.3];
const day7Terms=['immune response','response to stress','inflammatory response (GO:0006954)','innate immune response','response to cytokine','regulation of cytokine production (GO:0001817)','response to interferon-beta','response to virus','leukocyte chemotaxis','regulation of immune effector process','response to interferon-gamma','neutrophil migration','negative regulation of immune system process','regulation of hydrolase activity','sensory perception of smell'];
const day7Fold=[2.63,1.87,3.94,2.95,3.05,3.05,10.2,4.53,5.9,3.38,6.1,6.96,2.92,2.03,.23];
const day7LogP=[-33.75,-24.3,-22.7,-22.6,-21.7,-20.75,-16.75,-16.75,-13.9,-13.75,-13.6,-11.75,-10.75,-7.6,-7.6];

/* ---------- helpers ---------- */
const page=document.getElementById('page');
const FONT='"Liberation Sans",Arial,sans-serif';
Chart.defaults.font.family=FONT;
Chart.defaults.animation=false;
Chart.defaults.responsive=false;
Chart.defaults.devicePixelRatio=1;
Chart.defaults.plugins.legend.display=false;
Chart.defaults.plugins.tooltip.enabled=false;

function T(html,cx,cy,css,rot){
  const d=document.createElement('div');d.className='t';d.innerHTML=html;
  d.style.cssText='left:'+cx+'px;top:'+cy+'px;transform:translate(-50%,-50%)'+(rot?' rotate('+rot+'deg)':'')+';'+(css||'');
  page.appendChild(d);return d;
}
function TL(html,x,cy,css){const d=T(html,x,cy,css);d.style.transform='translate(0,-50%)';return d;}
function R(x1,y1,x2,y2,color,css){
  const d=document.createElement('div');d.className='l';
  d.style.cssText='left:'+x1+'px;top:'+y1+'px;width:'+(x2-x1)+'px;height:'+(y2-y1)+'px;background:'+color+';'+(css||'');
  page.appendChild(d);
}
function mk(box,config,m){
  m=Object.assign({l:70,r:30,t:14,b:50},m||{});
  const cl=Math.floor(box.l)-m.l,ct=Math.floor(box.t)-m.t;
  const w=Math.ceil(box.r)+m.r-cl,h=Math.ceil(box.b)+m.b-ct;
  const c=document.createElement('canvas');c.width=w;c.height=h;c.style.left=cl+'px';c.style.top=ct+'px';c.style.width=w+'px';c.style.height=h+'px';
  page.appendChild(c);
  const gaps={left:box.l-cl,right:cl+w-box.r,top:box.t-ct,bottom:ct+h-box.b};
  const scales=config.options.scales;let has={};
  for(const k in scales){const s=scales[k];if(s.display===false)continue;has[s.position]=true;
    s.afterFit=sc=>{if(sc.isHorizontal())sc.height=gaps.bottom;else if(sc.position==='right')sc.width=gaps.right;else sc.width=gaps.left;};}
  config.options.layout={autoPadding:false,padding:{left:has.left?0:gaps.left,right:has.right?0:gaps.right,top:gaps.top,bottom:has.bottom?0:gaps.bottom}};
  return new Chart(c.getContext('2d'),config);
}
const xy=a=>a.map(p=>({x:p[0],y:p[1]}));
const setTicks=vals=>s=>{s.ticks=vals.map(v=>({value:v}));};
/* text beside points, placed from each point's scaled position */
const pointText={id:'pointText',afterDatasetsDraw(chart){
  const ctx=chart.ctx;
  chart.data.datasets.forEach((ds,i)=>{
    if(!ds.texts)return;
    const pts=chart.getDatasetMeta(i).data;
    ctx.save();ctx.font=ds.textFont;ctx.fillStyle=ds.textColor;ctx.textAlign='center';ctx.textBaseline='middle';
    ds.texts.forEach((t,j)=>{const o=ds.textShift[j];ctx.fillText(t,pts[j].x+o[0],pts[j].y+o[1]);});
    ctx.restore();
  });
}};

/* letters */
[['A',0,14],['B',526,14],['C',1076,14],['D',1,505],['E',527,505],['F',1077,505],['G',1,963],['H',2,1551]].forEach(a=>TL(a[0],a[1],a[2],'font-size:26px;font-weight:700'));

/* ---------- A ---------- */
const pcaColors={ctrl:'#e5575c',day1:'#8c9432',day3:'#1fae72',day5:'#3193d8',day7:'#a94fa6'};
const pcaShift={ctrl:[[-5.3,-8.3],[19,-7.7],[-18,8],[9,15]],day1:[[-19.7,2.7],[-6.3,8.3],[10.3,8.7],[19,-7.3]],day3:[[-5.7,7.7],[7,-8.7],[-7.3,9.3],[19.3,1.3]],day5:[[7.3,-7.7],[7,-8.3],[7,-8.3],[-7.7,9.3]],day7:[[7,-9],[-19.3,.3],[-7.7,8.7],[-19.3,-1.7]]};
const regionRects=[[-49.5,70.4,114.8,120.9],[3.8,-71,116.9,-29.3]];
const regionEllipses=[[-20.9,22.9,78,57,0],[-134,-17.9,67,29.7,-48.6]];
mk({l:79,r:427,t:25.7,b:436},{type:'scatter',
 data:{datasets:pcaGroups.map(g=>({label:g,data:pcaDim1[g].map((v,i)=>({x:v,y:pcaDim2[g][i]})),backgroundColor:pcaColors[g],borderWidth:0,pointRadius:3.3,
   texts:pcaNames[g].map(s=>s.replace('-','\u2212')),textShift:pcaShift[g],textFont:'9.8px '+FONT,textColor:'#222'}))},
 options:{scales:{
  x:{type:'linear',position:'bottom',min:-185.8,max:121.6,afterBuildTicks:setTicks([-150,-100,-50,0,50,100]),
     grid:{color:c=>c.tick&&c.tick.value%100===0?'#e6e6e6':'#f3f3f3',tickLength:3,tickColor:c=>c.tick&&c.tick.value%100===0?'#555':'rgba(0,0,0,0)'},border:{display:false},
     ticks:{autoSkip:false,maxRotation:0,color:'#555',font:{size:8},padding:1,callback:v=>v%100===0?String(v).replace('-','\u2212'):''}},
  y:{type:'linear',position:'left',min:-72.6,max:122.1,afterBuildTicks:setTicks([-50,-25,0,25,50,75,100]),
     grid:{color:c=>c.tick&&c.tick.value%50===0?'#e6e6e6':'#f3f3f3',tickLength:3,tickColor:c=>c.tick&&c.tick.value%50===0?'#555':'rgba(0,0,0,0)'},border:{display:false},
     ticks:{autoSkip:false,color:'#555',font:{size:8},padding:1,callback:v=>v%50===0?String(v).replace('-','\u2212'):''}}}},
 plugins:[{id:'regions',beforeDatasetsDraw(chart){
   const {ctx,scales:{x,y}}=chart;ctx.save();ctx.fillStyle='rgba(58,92,178,.21)';ctx.strokeStyle='#4a66a8';ctx.lineWidth=1.2;
   regionRects.forEach(r=>{const px=x.getPixelForValue(r[0]),py=y.getPixelForValue(r[3]);ctx.beginPath();ctx.roundRect(px,py,x.getPixelForValue(r[2])-px,y.getPixelForValue(r[1])-py,15);ctx.fill();ctx.stroke();});
   regionEllipses.forEach(e=>{ctx.beginPath();ctx.ellipse(x.getPixelForValue(e[0]),y.getPixelForValue(e[1]),e[2],e[3],e[4]*Math.PI/180,0,Math.PI*2);ctx.fill();ctx.stroke();});
   ctx.restore();},
  afterDatasetsDraw(chart){const {ctx,chartArea:a,scales:{x,y}}=chart;ctx.save();ctx.strokeStyle='#aaa';ctx.lineWidth=1.5;ctx.strokeRect(a.left,a.top,a.width,a.height);
   ctx.strokeStyle='#333';ctx.lineWidth=.9;const px=x.getPixelForValue(80.4),py=y.getPixelForValue(-50.9);ctx.beginPath();ctx.moveTo(px,py);ctx.lineTo(px+7,py+9);ctx.stroke();ctx.restore();}},pointText]
},{l:40,r:10,t:5,b:18});
T('Dim1 (37.85%)',252.7,454,'font-size:9.3px;color:#222');
T('Dim2 (17.46%)',52.7,231,'font-size:9.3px;color:#222',-90);
T('group',454,191,'font-size:10px;color:#222');
pcaGroups.forEach((g,i)=>{const y=[207.3,222.7,238,253.3,268.3][i];
  const d=document.createElement('div');d.className='l';d.style.cssText='left:446.2px;top:'+(y-3.5)+'px;width:7px;height:7px;border-radius:50%;background:'+pcaColors[g];page.appendChild(d);
  TL(g,462,y,'font-size:8px;color:#333');});

/* ---------- B ---------- */
const blueStops=[[0,[249,251,254]],[5,[241,246,252]],[12,[232,239,248]],[20,[221,232,245]],[28,[194,214,236]],[36,[173,203,230]],[47,[130,181,219]],[55,[95,157,208]],[62,[74,142,200]],[70,[47,125,189]],[80,[32,113,179]],[85,[28,97,168]],[90,[25,87,164]],[100,[31,55,131]]];
function blue(v){for(let i=1;i<blueStops.length;i++){if(v<=blueStops[i][0]){const a=blueStops[i-1],b=blueStops[i],t=(v-a[0])/(b[0]-a[0]);const c=a[1].map((q,k)=>Math.round(q+(b[1][k]-q)*t));return 'rgb('+c.join(',')+')';}}return 'rgb(31,55,131)';}
function heatOpts(n){return {indexAxis:'y',scales:{x:{display:false,type:'linear',stacked:true,min:0,max:n,position:'bottom'}}};}
const bOpt=heatOpts(20);
bOpt.scales.y={type:'category',position:'right',stacked:true,grid:{display:false,drawTicks:false},border:{display:false},ticks:{color:'#444',font:{size:15},padding:10,autoSkip:false}};
mk({l:579.3,r:935.3,t:64,b:420},{type:'bar',data:{labels:orfGenes,datasets:orfHeat[0].map((_,c)=>({data:orfGenes.map(()=>1),backgroundColor:orfHeat.map(r=>blue(r[c])),borderWidth:0,barPercentage:1,categoryPercentage:1}))},options:bOpt},{l:0,r:70,t:20,b:20});
const lato='font-family:Lato,"Open Sans",sans-serif;color:#333;';
T('SARS-CoV-2',745.7,36.7,lato+'font-size:12.5px');
R(579.3,43,860.7,44.4,'#999');
[['Day1',610,579.3,645.3],['Day3',681.3,651.3,718],['Day5',754.3,722.3,788.7],['Day7',824.7,794.7,860.7],['Mock',899.7,869,935]].forEach(a=>{T(a[0],a[1],51,lato+'font-size:12.5px');R(a[2],61.6,a[3],63,'#999');});

/* ---------- volcanoes ---------- */
const tickFont={size:18,weight:'bold'};
function volcano(box,o){
  const ds=[];
  if(o.texts)ds.push({data:xy(o.texts.pts),backgroundColor:o.texts.color,borderWidth:0,pointRadius:2.6,order:0,texts:o.texts.names,textShift:o.texts.shift,textFont:'10px '+FONT,textColor:'#222'});
  if(o.texts2)ds.push({data:xy(o.texts2.pts),backgroundColor:o.texts2.color,borderWidth:0,pointRadius:2.6,order:0,texts:o.texts2.names,textShift:o.texts2.shift,textFont:'10px '+FONT,textColor:'#222'});
  ds.push({data:xy(o.red),backgroundColor:'#ee2b2b',borderWidth:0,pointRadius:1.3,order:1});
  ds.push({data:xy(o.black),backgroundColor:'#000',borderWidth:0,pointRadius:1.3,order:2});
  ds.push({type:'line',data:xy(o.cloud),borderColor:'#000',borderWidth:.8,backgroundColor:'#000',fill:'origin',pointRadius:0,tension:0,order:3});
  if(o.box)ds.push({type:'line',data:xy(o.box),borderColor:'#bbb',borderWidth:1.3,pointRadius:0,tension:0,fill:false,order:4});
  const g='#c4c4c4';
  ds.push({type:'line',data:[{x:-1.58,y:0},{x:-1.58,y:o.ymax}],borderColor:g,borderWidth:o.vw||1.2,pointRadius:0,fill:false,order:5});
  ds.push({type:'line',data:[{x:1.58,y:0},{x:1.58,y:o.ymax}],borderColor:g,borderWidth:o.vw||1.2,pointRadius:0,fill:false,order:5});
  ds.push({type:'line',data:[{x:o.xmin,y:o.h||2},{x:o.xmax,y:o.h||2}],borderColor:'#cfcfcf',borderWidth:o.hw||1,pointRadius:0,fill:false,order:6});
  mk(box,{type:'scatter',data:{datasets:ds},options:{scales:{
    x:{type:'linear',position:'bottom',min:o.xmin,max:o.xmax,afterBuildTicks:setTicks(o.xt),grid:{drawOnChartArea:false,tickLength:9,tickWidth:2.4,tickColor:'#000'},border:{color:'#000',width:2.6,z:1},
       ticks:{color:'#000',font:tickFont,padding:7,autoSkip:false,maxRotation:0,callback:v=>String(v)}},
    y:{type:'linear',position:'left',min:0,max:o.ymax,afterBuildTicks:setTicks(o.yt),grid:{drawOnChartArea:false,tickLength:10,tickWidth:2.4,tickColor:'#000'},border:{color:'#000',width:2.6,z:1},
       ticks:{color:'#000',font:tickFont,padding:5,autoSkip:false,callback:o.yl||(v=>String(v))}}}},plugins:[pointText]});
}
const tBold='font-weight:700;font-size:20px;color:#111;';
const tTitle='font-weight:700;font-size:23px;color:#111;';
const tN='font-size:16px;color:#222;';
/* C */
volcano({l:1181.7,r:1549.3,t:134.7,b:380},{xmin:-6,xmax:8,ymax:40,xt:[-6,-4,-2,0,2,4,6,8],yt:[0,10,20,30,40],cloud:d1Cloud,black:d1Black,red:d1Red,box:d1Box,
  texts:{pts:d1Down,names:d1DownNames,color:'#8c1a4b',shift:[[.7,-10.7]]},texts2:{pts:d1Up,names:d1UpNames,color:'#3a5fb5',shift:[[6.3,-6.3],[4.3,-6.3],[6.7,-5.7],[0,-5]]}});
T('Day 1',1364.7,95,tTitle);T('n=1',1228.3,137,tN);T('n=17',1479.3,133.7,tN);
T('Log<sub>2</sub> (fold change)',1365.3,431,tBold);
T('-Log<sub>10</sub> (false discovery rate)',1126.7,257.5,tBold,-90);
T('SARS-CoV-2 genes',1443.7,236.7,'font-size:13px;color:#222',-90);
/* D */
volcano({l:144,r:519,t:581,b:830.7},{xmin:-20,xmax:20,ymax:200,xt:[-20,-10,0,10,20],yt:[0,50,100,150,200],cloud:d3Cloud,black:d3Black,red:d3Red,hw:3,h:1.6,vw:1.5,
  texts:{pts:d3Down,names:d3DownNames,color:'#8c1a4b',shift:[[.7,-11.7],[-5,-9]]}});
T('Day 3',331,541,tTitle);T('n=118',211.6,579,tN);T('n=691',453,579,tN);
T('Log<sub>2</sub> (fold change)',331,886,tBold);
T('-Log <sub>10</sub> (false discovery rate)',78,706,tBold,-90);
/* E */
volcano({l:692.3,r:1063.8,t:583.7,b:831.3},{xmin:-10,xmax:10,ymax:100,xt:[-10,-5,0,5,10],yt:[0,20,40,60,80,100],cloud:d5Cloud,black:d5Black,red:d5Red});
T('Day 5',878,543,tTitle);T('n=132',756.8,588.7,tN);T('n=570',997.9,588,tN);
T('Log<sub>2</sub> (fold change)',878,886,tBold);
T('Log<sub>10</sub> (false discovery rate)',628,707,tBold,-90);
/* F */
volcano({l:1180,r:1550,t:584.3,b:830.7},{xmin:-10,xmax:10,ymax:100,xt:[-10,-8,-6,-4,-2,0,2,4,6,8,10],yt:[0,10,20,30,40,50,60,70,80,90,100],yl:v=>v%20===0?String(v):'',cloud:d7Cloud,black:d7Black,red:d7Red});
T('Day 7',1364.7,543,tTitle);T('n=378',1244.3,585,tN);T('n=619',1485.3,586,tN);
T('Log<sub>2</sub> (fold change)',1365,885.7,tBold);
T('-Log<sub>10</sub> (false discovery rate)',1118,707.5,tBold,-90);

/* ---------- G ---------- */
const geneBlues=['#e8f0f8','#dae6f3','#cfdff0','#bdd4eb','#a3c5e3','#82b1da','#5d9acf','#3b82c1','#1f65ae','#1a3f92'];
const geneCells=geneRows.map(r=>r.replace(/ /g,''));
const gOpt=heatOpts(20);
gOpt.scales.y={display:false,type:'category',position:'left',stacked:true};
mk({l:201.7,r:684.4,t:1006.6,b:1496.8},{type:'bar',data:{labels:geneCells.map((_,i)=>'g'+i),datasets:geneSamples.map((s,c)=>({label:s,data:geneCells.map(()=>1),backgroundColor:geneCells.map(r=>geneBlues[+r[c]]),borderWidth:0,barPercentage:1,categoryPercentage:1}))},options:gOpt},{l:0,r:0,t:0,b:0});
mk({l:46.1,r:198.4,t:1002.9,b:1498.6},{type:'scatter',data:{datasets:treeClades.map(c=>({type:'line',data:[{x:c[2],y:c[1]},{x:c[0],y:c[1]},{x:c[0],y:c[3]},{x:c[4],y:c[3]}],borderColor:'#111',borderWidth:1.3,pointRadius:0,tension:0,fill:false}))},
 options:{scales:{x:{display:false,type:'linear',position:'bottom',min:100,max:430},y:{display:false,type:'linear',position:'left',reverse:true,min:170,max:1510}}},
 plugins:[{id:'fan',afterDatasetsDraw(chart){const {ctx,scales:{x,y}}=chart;ctx.save();ctx.fillStyle='#000';ctx.beginPath();ctx.moveTo(x.getPixelForValue(425),y.getPixelForValue(180));treeFan.forEach(p=>ctx.lineTo(x.getPixelForValue(p[1]),y.getPixelForValue(p[0])));ctx.lineTo(x.getPixelForValue(425),y.getPixelForValue(1505));ctx.closePath();ctx.fill();ctx.restore();}}]},{l:0,r:0,t:0,b:0});
T('SARS-CoV-2',500.2,974,lato+'font-size:13.5px');
R(302,981.8,678.4,983.2,'#999');
[['Mock',248.3,204.4,291.7],['Day1',340,302.3,390],['Day3',443.5,401.5,489],['Day5',543.6,496,583.8],['Day7',637.3,591.6,679.3]].forEach(a=>{T(a[0],a[1],996.6,lato+'font-size:13.5px');R(a[2],1004.4,a[3],1005.6,'#999');});
R(41,1209,42.2,1313,'#333');
[1212.7,1228.6,1244.8,1260.4,1276.7,1292.2,1307.7].forEach(y=>R(30,y-.5,42,y+.5,'#333'));
[['-2',1212.7],['0',1244.8],['2',1276.7],['4',1307.7]].forEach(a=>T(a[0],9.5,a[1],'font-size:14px;color:#333',90));

/* ---------- H ---------- */
function enrich(box,o){
  mk(box,{type:'bar',data:{labels:o.terms,datasets:[
    {type:'line',data:o.logp,yAxisID:'y1',borderColor:'#111',borderWidth:2,pointRadius:0,tension:0,fill:false,order:0},
    {data:o.fold,yAxisID:'y',backgroundColor:'#000',barPercentage:.41,categoryPercentage:1,order:1}]},
   options:{scales:{
    x:{type:'category',position:'bottom',grid:{drawOnChartArea:false,tickLength:7,tickWidth:1.5,tickColor:'#000'},border:{color:'#000',width:2},ticks:{autoSkip:false,minRotation:90,maxRotation:90,color:'#111',font:{size:o.lf||18.4},padding:11}},
    y:{type:'linear',position:'left',min:0,max:o.ymax,afterBuildTicks:setTicks(o.yt),grid:{drawOnChartArea:false,tickLength:o.tl,tickWidth:1.8,tickColor:'#000'},border:{color:'#000',width:2},ticks:{color:'#111',font:{size:16,weight:'bold'},padding:4,callback:v=>String(v)}},
    y1:{type:'linear',position:'right',min:o.rmin,max:o.rmax,afterBuildTicks:setTicks(o.rt),grid:{drawOnChartArea:false,drawTicks:o.rtl>0,tickLength:o.rtl,tickWidth:1.8,tickColor:'#000'},border:{color:'#000',width:2},ticks:{color:'#111',font:{size:16,weight:'bold'},padding:o.rpad,callback:v=>String(v)}}}},
   plugins:[{id:'topline',afterDatasetsDraw(c){const {ctx,chartArea:a}=c;ctx.save();ctx.strokeStyle='#000';ctx.lineWidth=2;ctx.beginPath();ctx.moveTo(a.left,a.top);ctx.lineTo(a.right,a.top);ctx.stroke();ctx.restore();}}]
  },{l:60,r:60,t:10,b:460});
}
enrich({l:122.3,r:455,t:1589.9,b:1812.6},{terms:day3Terms,fold:day3Fold,logp:day3LogP,ymax:20,yt:[0,5,10,15,20],tl:9,rmin:-80,rmax:-10,rt:[-80,-70,-60,-50,-40,-30,-20,-10],rtl:0,rpad:13});
enrich({l:619.3,r:953.3,t:1589.9,b:1812.6},{terms:day5Terms,fold:day5Fold,logp:day5LogP,ymax:20,yt:[0,5,10,15,20],tl:11,rmin:-60,rmax:-10,rt:[-60,-50,-40,-30,-20,-10],rtl:12,rpad:4});
enrich({l:1110,r:1438,t:1593.7,b:1812.6},{terms:day7Terms,fold:day7Fold,logp:day7LogP,ymax:15,yt:[0,5,10,15],tl:11,lf:17.5,rmin:-40,rmax:-1.9,rt:[-40,-30,-20,-10],rtl:11,rpad:4});
const hTitle='font-weight:700;font-size:20px;color:#111;';
T('Day 3',288.7,1554,hTitle);T('Day 5',787,1554,hTitle);T('Day 7',1274,1558.7,hTitle);
T('Fold enrichment',74,1700.5,'font-size:19px;color:#111;-webkit-text-stroke:.3px #111',-90);
T('Log10 (p value)',1510,1703,'font-size:22px;color:#333',90);
R(432,2247.4,528,2274.7,'#000');
TL('Fold enrichment',535,2260,'font-size:33.5px;color:#222');
R(825,2262.5,929.3,2267.5,'#000','border-radius:3px');
TL('Log10 (p value)',939.3,2263,'font-size:34px;color:#222');
</script></body></html>
